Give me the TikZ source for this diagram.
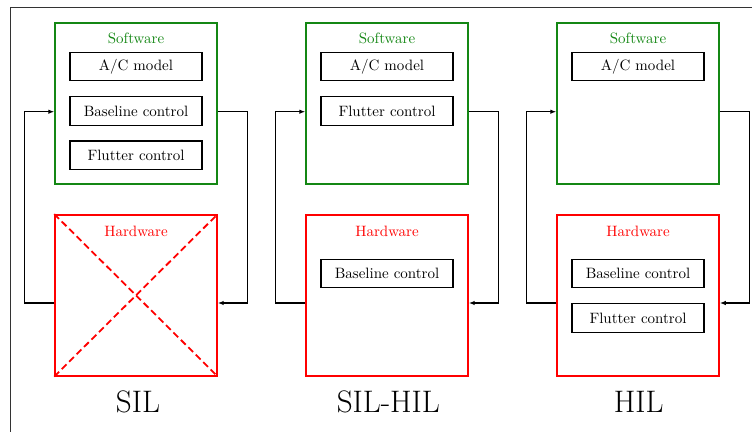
\documentclass[tikz,border=0pt]{standalone}
\usetikzlibrary{calc,arrows.meta}
\definecolor{swgreen}{RGB}{20,135,20}
\begin{document}
\begin{tikzpicture}[x=0.6667pt,y=-0.6667pt,
  inbox/.style={draw=black,line width=0.8pt,minimum width=88pt,minimum height=19pt,inner sep=0pt,font=\normalsize},
  swbox/.style={draw=swgreen,line width=0.9pt,minimum width=108pt,minimum height=107.3pt,inner sep=0pt},
  hwbox/.style={draw=red,line width=1pt,minimum width=108pt,minimum height=107.3pt,inner sep=0pt},
  swlab/.style={text=swgreen,font=\normalsize},
  hwlab/.style={text=red,font=\normalsize},
  conn/.style={draw=black,line width=0.8pt,-{Latex[length=4pt,width=3pt]}},
  ptitle/.style={font=\huge}]
\useasboundingbox (0,0) rectangle (752,432);
\draw[line width=0.6pt,black!80] (10,432) -- (10,7.7) -- (752,7.7);

% Panel 1 (SIL)
\node[swbox] (sw1) at (136,103.5) {};
\node[hwbox] (hw1) at (136,295.3) {};
\node[swlab] (swl1) at (136,38.3) {Software};
\node[hwlab] (hwl1) at (136,231) {Hardware};
\node[inbox] (ac1) at (136,66.5) {A/C model};
\node[inbox] (bc1) at (136,111) {Baseline control};
\node[inbox] (fc1) at (136,155.2) {Flutter control};
\draw[red,line width=1.2pt,dash pattern=on 4.5pt off 2.5pt] (hw1.north west) -- (hw1.south east);
\draw[red,line width=1.2pt,dash pattern=on 4.5pt off 2.5pt] (hw1.south west) -- (hw1.north east);
\node[ptitle] (t1) at (138,401.7) {SIL};

% Panel 2 (SIL-HIL)
\node[swbox] (sw2) at (387,103.5) {};
\node[hwbox] (hw2) at (387,295.3) {};
\node[swlab] (swl2) at (387,38.3) {Software};
\node[hwlab] (hwl2) at (387,231) {Hardware};
\node[inbox] (ac2) at (387,66.5) {A/C model};
\node[inbox] (fc2) at (387,111) {Flutter control};
\node[inbox] (bc2) at (387,273.5) {Baseline control};
\node[ptitle] (t2) at (388.3,401.7) {SIL-HIL};

% Panel 3 (HIL)
\node[swbox] (sw3) at (638,103.5) {};
\node[hwbox] (hw3) at (638,295.3) {};
\node[swlab] (swl3) at (638,38.3) {Software};
\node[hwlab] (hwl3) at (638,231) {Hardware};
\node[inbox] (ac3) at (638,66.5) {A/C model};
\node[inbox] (bc3) at (638,273.5) {Baseline control};
\node[inbox] (fc3) at (638,317.9) {Flutter control};
\node[ptitle] (t3) at (638.7,401.7) {HIL};

% Loops
\foreach \i in {1,2,3}{
  \coordinate (swL\i) at ($(sw\i.west)+(0,8.2)$);
  \coordinate (swR\i) at ($(sw\i.east)+(0,8.2)$);
  \coordinate (hwL\i) at ($(hw\i.west)+(0,7.7)$);
  \coordinate (hwR\i) at ($(hw\i.east)+(0,7.7)$);
  \draw[conn] (hwL\i) -- ++(-30,0) |- (swL\i);
  \draw[conn] (swR\i) -- ++(30,0) |- (hwR\i);
}
\end{tikzpicture}
\end{document}
